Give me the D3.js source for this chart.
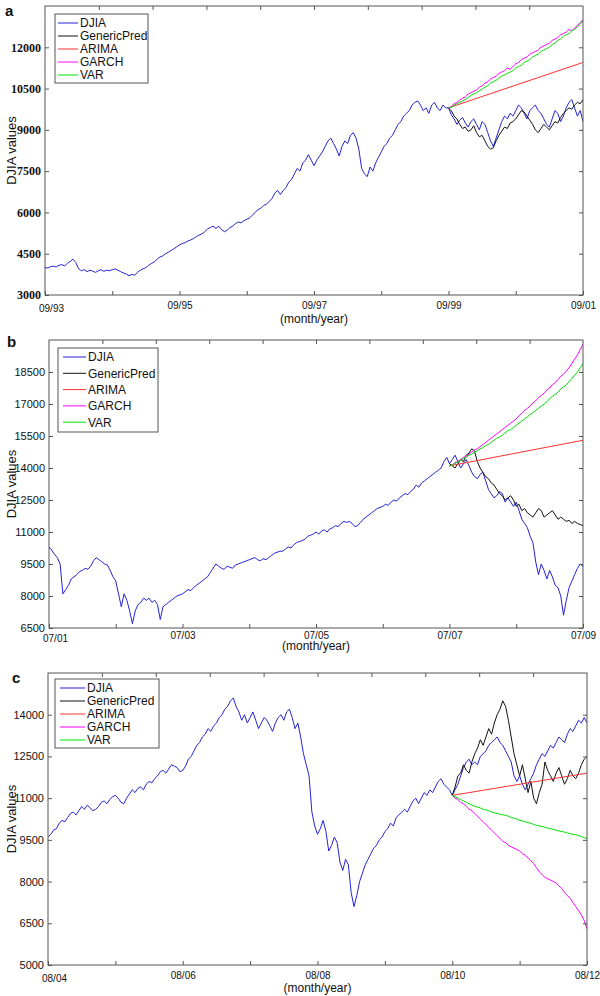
<!DOCTYPE html>
<html>
<head>
<meta charset="utf-8">
<script src="https://cdn.jsdelivr.net/npm/d3@7"></script>
<style>
  body { margin: 0; background: #fff; }
  svg { display: block; font-family: "Liberation Sans", Arial, sans-serif; }
</style>
</head>
<body>
<svg id="chart" width="600" height="996"></svg>
<script>
// half-month sampling of the series, x in decimal years
const STEP = 1 / 24;

// ---- panel a: 09/93 - 09/01, forecasts from 09/99
const startA = 1993 + 8 / 12;
const forecastA = 1999 + 8 / 12;
const yTicksA = [3000, 4500, 6000, 7500, 9000, 10500, 12000];
const djiaA = [
  4000, 3980, 4030, 4050, 4020, 4080, 4100, 4060, 4150, 4220, 4300, 4180, 3950, 3880, 3920, 3850, 3900, 3870, 3820, 3880, 3920, 3860, 3900, 3880,
  3920, 3950, 3900, 3850, 3800, 3760, 3700, 3750, 3720, 3820, 3900, 3950, 4000, 4080, 4150, 4200, 4300, 4380, 4420, 4500, 4550, 4620, 4680, 4750,
  4820, 4870, 4900, 4960, 5000, 5050, 5120, 5180, 5220, 5300, 5400, 5450, 5500, 5420, 5500, 5380, 5300, 5350, 5450, 5500, 5600, 5650, 5620, 5700,
  5750, 5800, 5900, 6000, 6100, 6150, 6250, 6300, 6400, 6500, 6700, 6800, 6650, 6800, 6900, 7100, 7200, 7400, 7600, 7500, 7800, 7900, 8100, 7900,
  7700, 7900, 8050, 8200, 8400, 8600, 8700, 8500, 8300, 8050, 8400, 8600, 8500, 8800, 8900, 8700, 8300, 7600, 7400, 7300, 7650, 7500, 7800, 8000,
  8200, 8400, 8500, 8700, 8800, 9000, 9200, 9300, 9500, 9600, 9700, 9900, 10000, 10050, 9900, 9700, 9800, 9600, 9900, 10000, 9800, 9700, 9900, 9800,
  9800, 9550, 9400, 9200, 9350, 9450, 9250, 9100, 9300, 9400, 9200, 9000, 9300, 9200, 8900, 8600, 8400, 8700, 9000, 9300, 9500, 9400, 9600, 9500,
  9700, 9900, 9800, 9600, 9400, 9700, 9800, 9900, 9700, 9600, 9400, 9200, 9100, 9400, 9700, 9600, 9300, 9500, 9800, 10000, 10100, 9800, 9500, 9700,
  9300
];
const genericA = [
  9800, 9700, 9500, 9400, 9200, 9050, 9100, 8950, 9000, 9150, 8900, 8750, 8800, 8600, 8400, 8300, 8350, 8600, 8800, 8950, 9100, 9050, 9250, 9300,
  9400, 9550, 9700, 9650, 9500, 9350, 9200, 9000, 8900, 9050, 9200, 9100, 9000, 9150, 9300, 9250, 9450, 9600, 9700, 9800, 9750, 9900, 10000, 9950, 10100
];
const arimaA = [9800, 11450];
const garchA = [
  9800, 9850, 9950, 10000, 10080, 10150, 10200, 10300, 10350, 10400, 10450, 10550, 10600, 10700, 10750, 10850, 10900, 10950, 11050, 11100, 11150, 11250, 11200, 11300,
  11400, 11450, 11550, 11600, 11650, 11750, 11800, 11850, 11900, 12000, 12050, 12100, 12150, 12250, 12300, 12350, 12450, 12500, 12550, 12650, 12600, 12700, 12800, 12900, 13000
];
const varA = [
  9800, 9820, 9900, 9950, 10000, 10050, 10100, 10180, 10250, 10300, 10350, 10420, 10480, 10550, 10600, 10700, 10750, 10800, 10880, 10950, 11000, 11050, 11100, 11150,
  11250, 11300, 11350, 11450, 11500, 11550, 11650, 11700, 11750, 11850, 11900, 11950, 12000, 12100, 12150, 12250, 12300, 12400, 12450, 12500, 12600, 12650, 12750, 12850, 12950
];

// ---- panel b: 07/01 - 07/09, forecasts from 07/07
const startB = 2001 + 6 / 12;
const forecastB = 2007 + 6 / 12;
const yTicksB = [6500, 8000, 9500, 11000, 12500, 14000, 15500, 17000, 18500];
const djiaB = [
  10300, 10150, 9950, 9800, 9500, 8100, 8300, 8500, 8800, 8900, 9000, 9150, 9200, 9300, 9250, 9400, 9650, 9800, 9700, 9600, 9500, 9450, 9200, 8900,
  8700, 8100, 7500, 8100, 7800, 7300, 6700, 7300, 7600, 7700, 7900, 7800, 7900, 7700, 7800, 7600, 6900, 7500, 7600, 7700, 7800, 7900, 8000, 8050,
  8100, 8200, 8300, 8250, 8400, 8500, 8600, 8700, 8800, 8900, 9100, 9300, 9500, 9400, 9300, 9250, 9400, 9350, 9300, 9450, 9500, 9550, 9600, 9650,
  9700, 9750, 9800, 9700, 9650, 9750, 9700, 9800, 9900, 10000, 10050, 10100, 10100, 10200, 10300, 10250, 10400, 10500, 10550, 10600, 10650, 10800, 10850, 10900,
  11000, 10900, 11050, 11100, 11000, 11150, 11200, 11300, 11250, 11400, 11500, 11450, 11500, 11400, 11250, 11300, 11450, 11600, 11700, 11800, 11900, 12000, 12100, 12150,
  12200, 12300, 12250, 12400, 12500, 12450, 12600, 12700, 12800, 12750, 12900, 13000, 13200, 13100, 13300, 13400, 13500, 13600, 13700, 13800, 13900, 14000, 14300, 14500,
  14200, 14400, 14600, 14300, 14000, 14200, 14400, 14100, 13800, 13600, 13500, 13700, 13800, 13400, 13000, 12800, 12600, 12700, 12900, 12800, 12400, 12600, 12400, 12200,
  12400, 12000, 11600, 11400, 11200, 10800, 10500, 9600, 9000, 9500, 9200, 8800, 9200, 8900, 8500, 8400, 8000, 7100, 7800, 8400, 8700, 9000, 9300, 9500,
  9400
];
const genericB = [
  14200, 14100, 14000, 14200, 14400, 14300, 14600, 14700, 14900, 14800, 14300, 14000, 13800, 13600, 13500, 13300, 13200, 13000, 12800, 12700, 12500, 12600, 12700, 12500,
  12200, 12300, 12000, 12100, 11900, 11800, 11700, 11900, 12100, 12000, 11700, 11800, 11900, 12000, 11800, 11600, 11700, 11600, 11500, 11550, 11400, 11500, 11400, 11350, 11300
];
const arimaB = [14100, 15300];
const garchB = [
  14100, 14150, 14250, 14300, 14400, 14500, 14550, 14650, 14750, 14850, 14900, 15000, 15100, 15200, 15300, 15400, 15500, 15600, 15700, 15800, 15900, 16000, 16100, 16200,
  16300, 16450, 16550, 16700, 16800, 16900, 17050, 17150, 17300, 17400, 17500, 17650, 17750, 17900, 18000, 18150, 18300, 18400, 18550, 18700, 18900, 19100, 19300, 19550, 19800
];
const varB = [
  14100, 14150, 14200, 14300, 14350, 14450, 14500, 14600, 14650, 14750, 14800, 14900, 14950, 15050, 15100, 15200, 15300, 15400, 15450, 15550, 15650, 15750, 15800, 15900,
  16000, 16100, 16200, 16300, 16400, 16500, 16600, 16700, 16800, 16900, 17000, 17100, 17250, 17350, 17450, 17550, 17700, 17800, 17900, 18050, 18200, 18350, 18500, 18700, 18900
];

// ---- panel c: 08/04 - 08/12, forecasts from 08/10
const startC = 2004 + 7 / 12;
const forecastC = 2010 + 7 / 12;
const yTicksC = [5000, 6500, 8000, 9500, 11000, 12500, 14000];
const djiaC = [
  9600, 9700, 9850, 9900, 10100, 10200, 10150, 10300, 10450, 10500, 10400, 10550, 10700, 10600, 10750, 10650, 10550, 10600, 10700, 10850, 10900, 10800, 10950, 11050,
  11100, 11000, 10850, 10800, 11000, 11150, 11300, 11200, 11350, 11400, 11300, 11500, 11600, 11550, 11700, 11800, 11950, 12000, 11900, 12050, 12200, 12150, 12100, 11950,
  12000, 12150, 12400, 12500, 12700, 12900, 13000, 13200, 13300, 13500, 13400, 13600, 13700, 13900, 14000, 14200, 14300, 14500, 14600, 14300, 14100, 13800, 14000, 13700,
  13900, 14100, 13800, 13500, 13700, 13900, 13800, 13600, 13400, 13700, 13900, 14000, 13800, 14100, 14200, 13900, 13500, 13700, 13200, 12600, 12200, 11800, 10500, 10000,
  9700, 9900, 10200, 9800, 9100, 9300, 9600, 9400, 8700, 8400, 8800, 8600, 7600, 7100, 7500, 8000, 8300, 8600, 8800, 9000, 9200, 9300, 9500, 9600,
  9800, 9900, 10100, 10000, 10300, 10400, 10500, 10600, 10500, 10700, 10900, 11000, 10800, 11000, 11200, 11100, 11300, 11200, 11400, 11600, 11700, 11500, 11400, 11300,
  11100, 11300, 11500, 11800, 12100, 12300, 12400, 12200, 12300, 12200, 12500, 12600, 12700, 12900, 13000, 13100, 13200, 13000, 12900, 12700, 12500, 12300, 11800, 11600,
  11800, 11500, 11300, 11500, 11700, 11900, 12200, 12400, 12600, 12500, 12700, 12900, 12800, 13000, 13200, 13100, 13000, 13300, 13500, 13400, 13600, 13800, 13700, 13900,
  13700
];
const genericC = [
  11100, 11400, 11800, 11900, 12200, 12000, 11900, 12300, 12600, 12800, 13100, 12900, 13200, 13500, 13300, 13700, 14000, 14200, 14500, 14300, 13800, 13200, 12600, 12200,
  11800, 12200, 11700, 11200, 11600, 11000, 10800, 11200, 11500, 12300, 12000, 11800, 11600, 11900, 12100, 11800, 11500, 11700, 12000, 11800, 11700, 11900, 12200, 12400, 12500
];
const arimaC = [11100, 11900];
const garchC = [
  11100, 11000, 10950, 10850, 10800, 10700, 10600, 10550, 10450, 10350, 10250, 10150, 10050, 9950, 9850, 9750, 9650, 9550, 9450, 9400, 9300, 9250, 9200, 9150,
  9100, 9000, 8950, 8850, 8750, 8650, 8500, 8350, 8250, 8150, 8100, 8050, 8000, 7950, 7850, 7750, 7600, 7500, 7400, 7250, 7100, 6950, 6800, 6600, 6300
];
const varC = [
  11100, 11050, 11000, 10950, 10900, 10850, 10800, 10750, 10700, 10680, 10650, 10600, 10580, 10550, 10500, 10480, 10450, 10420, 10400, 10380, 10350, 10300, 10280, 10250,
  10200, 10180, 10150, 10120, 10100, 10050, 10020, 10000, 9980, 9950, 9920, 9900, 9880, 9850, 9820, 9800, 9780, 9750, 9720, 9700, 9680, 9650, 9620, 9580, 9550
];

const seriesNames = ['DJIA', 'GenericPred', 'ARIMA', 'GARCH', 'VAR'];
const seriesColors = ['#2323d6', '#111111', '#ff3030', '#ff00ff', '#00e000'];

const panels = [
  {
    letter: 'a', letterX: 5, letterY: 16,
    box: { l: 45, r: 583, t: 6, b: 295 },
    start: startA, forecast: forecastA, yDomain: [3000, 13500], yTicks: yTicksA,
    tickFont: { family: '"Liberation Serif", "Times New Roman", serif', size: 12, weight: 'bold' },
    labelDy: 6.5, titleDy: 28,
    legend: { x: 55, y: 14, w: 93, h: 69, row: 13, l0: 58, l1: 78, tx: 80 },
    data: [djiaA, genericA, arimaA, garchA, varA]
  },
  {
    letter: 'b', letterX: 7, letterY: 347,
    box: { l: 49, r: 583, t: 340, b: 628 },
    start: startB, forecast: forecastB, yDomain: [6500, 20000], yTicks: yTicksB,
    tickFont: { family: '"Liberation Sans", Arial, sans-serif', size: 11, weight: 'normal' },
    labelDy: 3.5, titleDy: 22,
    legend: { x: 58, y: 348, w: 100, h: 84, row: 16.3, l0: 63, l1: 86, tx: 88 },
    data: [djiaB, genericB, arimaB, garchB, varB]
  },
  {
    letter: 'c', letterX: 12, letterY: 683,
    box: { l: 48, r: 587, t: 673, b: 965 },
    start: startC, forecast: forecastC, yDomain: [5000, 15500], yTicks: yTicksC,
    tickFont: { family: '"Liberation Sans", Arial, sans-serif', size: 11, weight: 'normal' },
    labelDy: 6.5, titleDy: 27,
    legend: { x: 55, y: 679, w: 104, h: 69, row: 13, l0: 60, l1: 85, tx: 87 },
    data: [djiaC, genericC, arimaC, garchC, varC]
  }
];

const svg = d3.select('#chart');
const AXIS = '#555';

const fmtMonthYear = (t) => {
  const yr = Math.floor(t + 1e-6);
  const m = Math.round((t - yr) * 12) + 1;
  return d3.format('02')(m) + '/' + d3.format('02')(yr % 100);
};

panels.forEach((p, pi) => drawPanel(p, pi));

function drawPanel(p, pi) {
  const { l, r, t, b } = p.box;
  const x = d3.scaleLinear().domain([p.start, p.start + 8]).range([l, r]);
  const y = d3.scaleLinear().domain(p.yDomain).range([b, t]);
  const g = svg.append('g');

  g.append('clipPath')
    .attr('id', 'clip' + pi)
    .append('rect')
    .attr('x', l).attr('y', t)
    .attr('width', r - l).attr('height', b - t);

  const line = d3.line().x((d) => x(d[0])).y((d) => y(d[1]));

  const plot = g.append('g').attr('clip-path', `url(#clip${pi})`);
  p.data.forEach((vals, si) => {
    const t0 = si === 0 ? p.start : p.forecast;
    // ARIMA is a straight line given by its two end values
    const step = vals.length === 2 ? 2 : STEP;
    const pts = vals.map((v, i) => [t0 + i * step, v]);
    plot.append('path')
      .datum(pts)
      .attr('fill', 'none')
      .attr('stroke', seriesColors[si])
      .attr('stroke-width', 1)
      .attr('stroke-linejoin', 'round')
      .attr('d', line);
  });

  // box
  g.append('rect')
    .attr('x', l).attr('y', t)
    .attr('width', r - l).attr('height', b - t)
    .attr('fill', 'none')
    .attr('stroke', AXIS);

  const years = d3.range(0, 9).map((k) => p.start + k);
  const topTicks = d3.range(1, 10).map((k) => p.start + (k * 8) / 10);

  const styleAxis = (sel) => {
    sel.select('.domain').remove();
    sel.selectAll('.tick line').attr('stroke', AXIS);
  };

  const bottom = g.append('g')
    .attr('transform', `translate(0,${b})`)
    .call(d3.axisBottom(x).tickValues(years).tickSize(-4).tickPadding(p.labelDy)
      .tickFormat((d, i) => (i % 2 ? '' : fmtMonthYear(d))))
    .call(styleAxis);
  // first date label sits a little right of and below the corner
  bottom.selectAll('text')
    .attr('font-family', '"Liberation Sans", Arial, sans-serif')
    .attr('font-size', 10)
    .attr('fill', '#111')
    .attr('x', (d, i) => (i === 0 ? 6 : 0))
    .attr('y', (d, i) => p.labelDy + (i === 0 ? 3 : 0));

  g.append('g')
    .attr('transform', `translate(0,${t})`)
    .call(d3.axisTop(x).tickValues(topTicks).tickSize(-4).tickFormat(''))
    .call(styleAxis);

  const left = g.append('g')
    .attr('transform', `translate(${l},0)`)
    .call(d3.axisLeft(y).tickValues(p.yTicks).tickSize(-4).tickPadding(4).tickFormat(d3.format('d')))
    .call(styleAxis);
  left.selectAll('text')
    .attr('font-family', p.tickFont.family)
    .attr('font-size', p.tickFont.size)
    .attr('font-weight', p.tickFont.weight)
    .attr('fill', '#111');

  g.append('g')
    .attr('transform', `translate(${r},0)`)
    .call(d3.axisRight(y).tickValues(p.yTicks).tickSize(-4).tickFormat(''))
    .call(styleAxis);

  // titles
  g.append('text')
    .attr('x', (l + r) / 2)
    .attr('y', b + p.titleDy)
    .attr('text-anchor', 'middle')
    .attr('font-size', 12)
    .attr('fill', '#111')
    .text('(month/year)');

  g.append('text')
    .attr('transform', `translate(16,${(t + b) / 2}) rotate(-90)`)
    .attr('text-anchor', 'middle')
    .attr('font-size', 13)
    .attr('fill', '#111')
    .text('DJIA values');

  g.append('text')
    .attr('x', p.letterX)
    .attr('y', p.letterY)
    .attr('font-size', 15)
    .attr('font-weight', 'bold')
    .attr('fill', '#111')
    .text(p.letter);

  // legend
  const lg = p.legend;
  const leg = g.append('g');
  leg.append('rect')
    .attr('x', lg.x).attr('y', lg.y)
    .attr('width', lg.w).attr('height', lg.h)
    .attr('fill', '#fff')
    .attr('stroke', AXIS);

  const item = leg.selectAll('g.item')
    .data(seriesNames)
    .enter()
    .append('g')
    .attr('class', 'item')
    .attr('transform', (d, i) => `translate(0,${lg.y + 9 + i * lg.row})`);

  item.append('line')
    .attr('x1', lg.l0).attr('x2', lg.l1)
    .attr('stroke', (d, i) => seriesColors[i])
    .attr('stroke-width', 1);

  item.append('text')
    .attr('x', lg.tx)
    .attr('dy', '0.36em')
    .attr('font-size', 12)
    .attr('fill', '#111')
    .text((d) => d);
}
</script>
</body>
</html>
